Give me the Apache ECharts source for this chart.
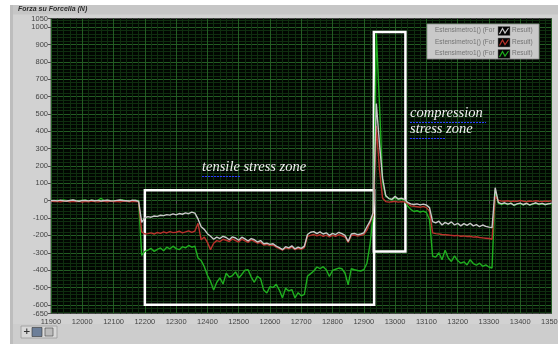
<!DOCTYPE html>
<html>
<head>
<meta charset="utf-8">
<script src="https://cdn.jsdelivr.net/npm/echarts@6/dist/echarts.min.js"></script>
<style>
  html, body { margin: 0; padding: 0; background: #ffffff; }
  #chart { width: 558px; height: 344px; }
</style>
</head>
<body>
<div id="chart"></div>
<script>
// Strain-gauge force on the fork (N), sampled every 10 time units from 11900
const xStart = 11900;
const xStep = 10;

const gaugeGray = [
  0,2,-1,3,0,-2,1,4,0,-3,2,1,-1,3,0,2,-2,1,3,0,-1,2,4,1,0,-2,3,1,
  -3,-125,-98,
  -92,-95,-88,-90,-84,-86,-80,-83,-76,-82,-74,-78,-70,-75,-66,-72,-105,
  -150,-165,-190,-205,-222,-210,-218,-205,-212,-225,
  -208,-215,-228,-210,-220,-232,-218,-225,-238,-230,
  -248,-245,-252,-248,-262,-270,-282,-265,-272,-260,
  -278,-268,-275,-262,-195,-182,-178,-190,-180,-192,
  -185,-200,-188,-195,-182,-190,-200,-235,-192,-188,
  -196,-192,-185,-150,-118,-70,560,330,130,30,
  12,8,25,10,15,8,-10,-18,-22,-18,
  -24,-20,-25,-40,-120,-128,-118,-140,-125,-135,
  -122,-140,-130,-145,-132,-142,-130,-145,-138,-150,
  -140,-148,-152,-155,75,-10,-18,
  -12,-20,-15,-25,-18,-14,-22,-16,-24,-18,-12,-20,-15,-22,-18,-14
];

const gaugeRed = [
  -2,-5,-3,-6,-4,-2,-7,-3,-5,-4,-8,-3,-6,-2,-5,-7,-3,-4,-6,-2,-5,-3,-7,-4,-2,-6,-3,-5,
  -6,-180,-192,
  -190,-185,-192,-183,-188,-180,-186,-178,-184,-182,-176,-185,-180,-174,-183,-175,-130,
  -225,-210,-240,-282,-245,-230,-236,-222,-228,-235,
  -220,-230,-238,-222,-232,-240,-226,-235,-245,-240,
  -255,-252,-258,-256,-268,-276,-285,-272,-278,-268,
  -282,-275,-280,-270,-205,-200,-195,-202,-196,-205,
  -198,-208,-200,-205,-196,-202,-210,-240,-200,-198,
  -204,-200,-195,-170,-125,-80,430,180,15,-5,
  -8,-6,-4,-8,-5,-7,-15,-30,-32,-35,
  -38,-33,-40,-60,-185,-190,-192,-195,-196,-198,
  -200,-202,-200,-205,-203,-206,-205,-210,-208,-212,
  -214,-216,-218,-222,25,2,-2,
  -3,0,-5,-2,-4,1,-3,-6,-2,-4,0,-3,-5,-2,-4,-1
];

const gaugeGreen = [
  2,0,3,-1,4,1,-2,3,0,2,1,5,-1,3,0,2,14,-1,3,0,2,-2,1,4,0,2,-1,3,
  0,-315,-292,
  -285,-275,-292,-280,-272,-288,-268,-278,-262,-276,-282,-265,-272,-258,-268,-262,-330,
  -345,-380,-430,-465,-515,-470,-445,-480,-418,-440,
  -432,-410,-445,-425,-400,-398,-440,-470,-435,-450,
  -515,-532,-495,-500,-482,-515,-560,-505,-520,-512,
  -560,-530,-548,-540,-435,-420,-405,-382,-392,-380,
  -398,-437,-402,-395,-388,-392,-418,-485,-392,-398,
  -402,-405,-398,-360,-250,-80,965,560,110,25,
  15,5,18,8,10,5,-30,-50,-62,-58,
  -65,-60,-68,-110,-320,-325,-300,-340,-285,-330,
  -350,-318,-345,-360,-352,-370,-340,-362,-372,-360,
  -378,-370,-382,-388,62,-15,-22,
  -15,-22,-12,-28,-20,-16,-25,-14,-26,-20,-15,-22,-18,-24,-16,-20
];

const xTickLabels = [11900,12000,12100,12200,12300,12400,12500,12600,12700,12800,12900,13000,13100,13200,13300,13400,13500];
const yTickLabels = [-650,-600,-500,-400,-300,-200,-100,0,100,200,300,400,500,600,700,800,900,1000,1050];

// Highlighted zones: [time, force] corners
const tensileZone = [[12200, 60], [12933, -600]];
const compressionZone = [[12932, 972], [13033, -292]];

const legendNames = ['Estensimetro1() (For', 'Estensimetro1() (For', 'Estensimetro1() (For'];
const seriesColors = ['#c8c8c8', '#b8322c', '#1fae1f'];

function toPairs(vals) {
  return vals.map((v, i) => [xStart + i * xStep, v]);
}

const MAJOR = '#235c23';
const MINOR = '#0f2e0f';
const NONE = 'rgba(0,0,0,0)';

const chart = echarts.init(document.getElementById('chart'), null, { renderer: 'canvas' });

const boxStyle = { color: 'rgba(0,0,0,0)', borderColor: '#ffffff', borderWidth: 2.5 };

function legendRow(y, color, name) {
  return [
    { type: 'text', left: 435, top: y - 4, style: { text: name, fill: '#737373', font: '6.5px "Liberation Sans"' } },
    { type: 'rect', shape: { x: 498, y: y - 4.5, width: 12, height: 9 }, style: { fill: '#050505', stroke: '#777', lineWidth: 0.5 } },
    { type: 'polyline', shape: { points: [[499.5, y + 3], [502.5, y - 2.5], [505, y + 2], [508.5, y - 3]] }, style: { stroke: color, lineWidth: 1.2, fill: null } },
    { type: 'text', left: 512, top: y - 4, style: { text: 'Result)', fill: '#737373', font: '6.5px "Liberation Sans"' } }
  ];
}

const annotFont = 'italic 14.5px "Liberation Serif"';

const graphics = [
  // outer white margin
  { type: 'rect', shape: { x: 0, y: 0, width: 558, height: 5 }, style: { fill: '#ffffff' }, z: 100 },
  { type: 'rect', shape: { x: 0, y: 0, width: 10, height: 344 }, style: { fill: '#ffffff' }, z: 100 },
  // panel left bevel
  { type: 'rect', shape: { x: 10, y: 5, width: 3, height: 339 }, style: { fill: '#bdbdbd' }, z: 99 },
  // title band
  { type: 'rect', shape: { x: 13, y: 5, width: 545, height: 9.5 }, style: { fill: '#c6c6c6' }, z: 99 },
  { type: 'text', left: 18, top: 5.5, style: { text: 'Forza su Forcella (N)', fill: '#2e2e2e', font: 'italic bold 7px "Liberation Sans"' }, z: 101 },
  // bottom tool strip
  { type: 'rect', shape: { x: 13, y: 324, width: 545, height: 20 }, style: { fill: '#cdcdcd' }, z: 99 },
  { type: 'rect', shape: { x: 21, y: 326, width: 36, height: 12 }, style: { fill: '#d8d8d8', stroke: '#9a9a9a', lineWidth: 0.8 }, z: 101 },
  { type: 'text', left: 23, top: 327, style: { text: '+', fill: '#333', font: 'bold 9px "DejaVu Sans"' }, z: 102 },
  { type: 'rect', shape: { x: 32, y: 327.5, width: 10, height: 9 }, style: { fill: '#6d7f99', stroke: '#333', lineWidth: 0.6 }, z: 102 },
  { type: 'rect', shape: { x: 45, y: 328, width: 8, height: 8 }, style: { fill: '#bcbcbc', stroke: '#444', lineWidth: 0.6 }, z: 102 },
  // annotations
  { type: 'text', left: 202, top: 160, style: { text: 'tensile stress zone', fill: '#f2f2f2', font: annotFont }, z: 110 },
  { type: 'line', shape: { x1: 202, y1: 176.5, x2: 241, y2: 176.5 }, style: { stroke: '#2a3cff', lineWidth: 1, lineDash: [2, 1] }, z: 110 },
  { type: 'text', left: 410, top: 106, style: { text: 'compression', fill: '#f2f2f2', font: annotFont }, z: 110 },
  { type: 'line', shape: { x1: 410, y1: 122.5, x2: 486, y2: 122.5 }, style: { stroke: '#2a3cff', lineWidth: 1, lineDash: [2, 1] }, z: 110 },
  { type: 'text', left: 410, top: 122, style: { text: 'stress zone', fill: '#f2f2f2', font: annotFont }, z: 110 },
  { type: 'line', shape: { x1: 410, y1: 138.5, x2: 446, y2: 138.5 }, style: { stroke: '#2a3cff', lineWidth: 1, lineDash: [2, 1] }, z: 110 },
  // legend box
  { type: 'rect', shape: { x: 427, y: 24, width: 112, height: 35 }, style: { fill: '#c9c9c9', stroke: '#8e8e8e', lineWidth: 0.8 }, z: 110 }
];
[31, 42.5, 54].forEach((y, k) => {
  legendRow(y, seriesColors[k], legendNames[k]).forEach(g => { g.z = 111; graphics.push(g); });
});

const plain = v => String(v);
const labelStyle = { color: '#444', fontSize: 7.5, fontFamily: 'Liberation Sans', hideOverlap: false, formatter: plain };

const option = {
  animation: false,
  backgroundColor: '#d2d2d2',
  grid: {
    left: 51, top: 18.5, right: 6.5, bottom: 30.5,
    outerBoundsMode: 'none',
    containLabel: false,
    show: true, backgroundColor: '#010601', borderColor: '#4a4a4a', borderWidth: 1
  },
  xAxis: [
    {
      // labelled time axis
      type: 'value', min: 11900, max: 13500, interval: 100,
      axisLine: { show: false },
      axisTick: { show: true, customValues: xTickLabels, length: 3, lineStyle: { color: '#555' } },
      axisLabel: Object.assign({ customValues: xTickLabels, margin: 4 }, labelStyle),
      splitLine: { show: false }
    },
    {
      // grid-only twin of the time axis
      type: 'value', min: 11900, max: 13500, interval: 20, position: 'top',
      axisLine: { show: false }, axisTick: { show: false }, axisLabel: { show: false },
      splitLine: { show: true, lineStyle: { color: [MAJOR, MINOR, MINOR, MINOR, MINOR], width: 1 } }
    }
  ],
  yAxis: [
    {
      // labelled force axis
      type: 'value', min: -650, max: 1050, interval: 50,
      axisLine: { show: false },
      axisTick: { show: true, customValues: yTickLabels, length: 3, lineStyle: { color: '#555' } },
      axisLabel: Object.assign({ customValues: yTickLabels, margin: 3 }, labelStyle),
      splitLine: { show: false }
    },
    {
      // grid-only twin of the force axis
      type: 'value', min: -650, max: 1050, interval: 10, position: 'right',
      axisLine: { show: false }, axisTick: { show: false }, axisLabel: { show: false },
      splitLine: { show: true, lineStyle: { color: [NONE, MINOR, NONE, MINOR, NONE, MAJOR, NONE, MINOR, NONE, MINOR], width: 1 } }
    }
  ],
  series: [
    {
      name: 'green', type: 'line', data: toPairs(gaugeGreen), showSymbol: false,
      lineStyle: { color: seriesColors[2], width: 1.4 }, z: 2
    },
    {
      name: 'red', type: 'line', data: toPairs(gaugeRed), showSymbol: false,
      lineStyle: { color: seriesColors[1], width: 1.4 }, z: 3
    },
    {
      name: 'gray', type: 'line', data: toPairs(gaugeGray), showSymbol: false,
      lineStyle: { color: seriesColors[0], width: 1.4 }, z: 4,
      markArea: {
        silent: true,
        itemStyle: boxStyle,
        data: [
          [{ coord: tensileZone[0] }, { coord: tensileZone[1] }],
          [{ coord: compressionZone[0] }, { coord: compressionZone[1] }]
        ]
      }
    }
  ],
  graphic: graphics
};

chart.setOption(option);
</script>
</body>
</html>
